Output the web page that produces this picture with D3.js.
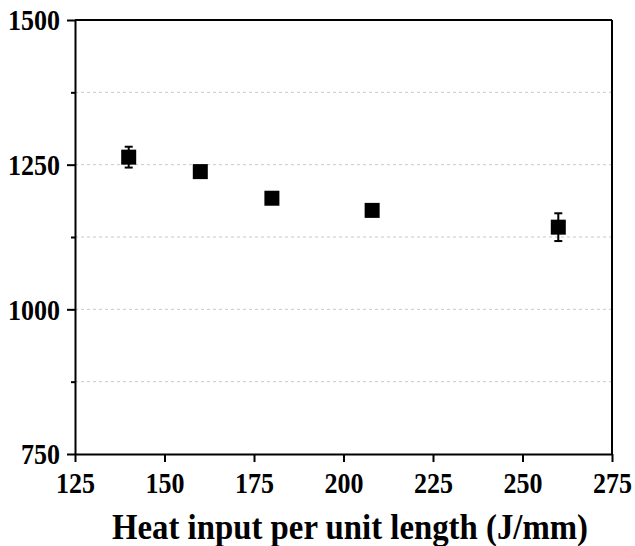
<!DOCTYPE html>
<html>
<head>
<meta charset="utf-8">
<script src="https://cdn.jsdelivr.net/npm/d3@7"></script>
<style>
  body { margin: 0; background: #fff; }
  svg { display: block; }
</style>
</head>
<body>
<div id="chart"></div>
<script>
// data
const heatInput = [140, 160, 180, 208, 260];
const strength = [1263, 1238, 1192, 1171, 1142];
const errorBar = [18, 4, 4, 4, 24];
const xTicks = [125, 150, 175, 200, 225, 250, 275];
const yTicks = [750, 1000, 1250, 1500];
const yMinor = [875, 1125, 1375];
const xTitle = 'Heat input per unit length (J/mm)';

const width = 635;
const height = 546;
const margin = { top: 20, right: 23, bottom: 92, left: 75 };
const plotW = width - margin.left - margin.right;
const plotH = height - margin.top - margin.bottom;
const font = '"Liberation Serif", "Times New Roman", serif';

const svg = d3
  .select('#chart')
  .append('svg')
  .attr('width', width)
  .attr('height', height);

const g = svg
  .append('g')
  .attr('transform', `translate(${margin.left}, ${margin.top})`);

const xScale = d3.scaleLinear().domain([125, 275]).range([0, plotW]);
const yScale = d3.scaleLinear().domain([750, 1500]).range([plotH, 0]);

// dashed grid lines, major and minor
g.append('g')
  .selectAll('line')
  .data(yTicks.concat(yMinor).filter(v => v > 750 && v < 1500))
  .enter()
  .append('line')
  .attr('x1', 0)
  .attr('x2', plotW)
  .attr('y1', d => yScale(d))
  .attr('y2', d => yScale(d))
  .attr('stroke', '#c8c8c8')
  .attr('stroke-width', 1)
  .attr('stroke-dasharray', '3 3');

// axes
const xAxis = g
  .append('g')
  .attr('transform', `translate(0, ${plotH})`)
  .call(d3.axisBottom(xScale).tickValues(xTicks).tickFormat(d3.format('d'))
    .tickSize(8).tickPadding(10).tickSizeOuter(0));

const yAxis = g
  .append('g')
  .call(d3.axisLeft(yScale).tickValues(yTicks).tickFormat(d3.format('d'))
    .tickSize(8).tickPadding(7).tickSizeOuter(0));

g.append('g')
  .call(d3.axisLeft(yScale).tickValues(yMinor).tickSize(4).tickFormat(''))
  .call(a => a.select('.domain').remove());

// the labels in the picture are a tall, narrow serif
[xAxis, yAxis].forEach(a => {
  a.select('.domain').attr('stroke', '#000').attr('stroke-width', 2);
  a.selectAll('.tick text')
    .attr('fill', '#000')
    .attr('textLength', d => String(d).length * 13)
    .attr('lengthAdjust', 'spacingAndGlyphs')
    .style('font-family', font)
    .style('font-weight', 'bold')
    .style('font-size', '29px');
});
yAxis.selectAll('.tick text').attr('dy', '0.34em');
g.selectAll('.tick line').attr('stroke', '#000').attr('stroke-width', 2);

// top and right frame
g.append('line')
  .attr('x1', 0).attr('x2', plotW).attr('y1', 0).attr('y2', 0)
  .attr('stroke', '#000').attr('stroke-width', 2);
g.append('line')
  .attr('x1', plotW).attr('x2', plotW).attr('y1', 0).attr('y2', plotH)
  .attr('stroke', '#000').attr('stroke-width', 2);

// error bars
const points = heatInput.map((x, i) => ({ x: x, y: strength[i], e: errorBar[i] }));
const bars = g.append('g').selectAll('g').data(points).enter().append('g');
bars.append('line')
  .attr('x1', d => xScale(d.x)).attr('x2', d => xScale(d.x))
  .attr('y1', d => yScale(d.y + d.e)).attr('y2', d => yScale(d.y - d.e))
  .attr('stroke', '#000').attr('stroke-width', 2);
[1, -1].forEach(s => {
  bars.append('line')
    .attr('x1', d => xScale(d.x) - 4).attr('x2', d => xScale(d.x) + 4)
    .attr('y1', d => yScale(d.y + s * d.e)).attr('y2', d => yScale(d.y + s * d.e))
    .attr('stroke', '#000').attr('stroke-width', 2);
});

// square markers
const size = 15;
g.append('g')
  .selectAll('rect')
  .data(points)
  .enter()
  .append('rect')
  .attr('x', d => xScale(d.x) - size / 2)
  .attr('y', d => yScale(d.y) - size / 2)
  .attr('width', size)
  .attr('height', size)
  .attr('fill', '#000');

// axis title
svg.append('text')
  .attr('x', 350)
  .attr('y', 539)
  .attr('text-anchor', 'middle')
  .attr('textLength', 476)
  .attr('lengthAdjust', 'spacingAndGlyphs')
  .style('font-family', font)
  .style('font-weight', 'bold')
  .style('font-size', '36px')
  .text(xTitle);
</script>
</body>
</html>
